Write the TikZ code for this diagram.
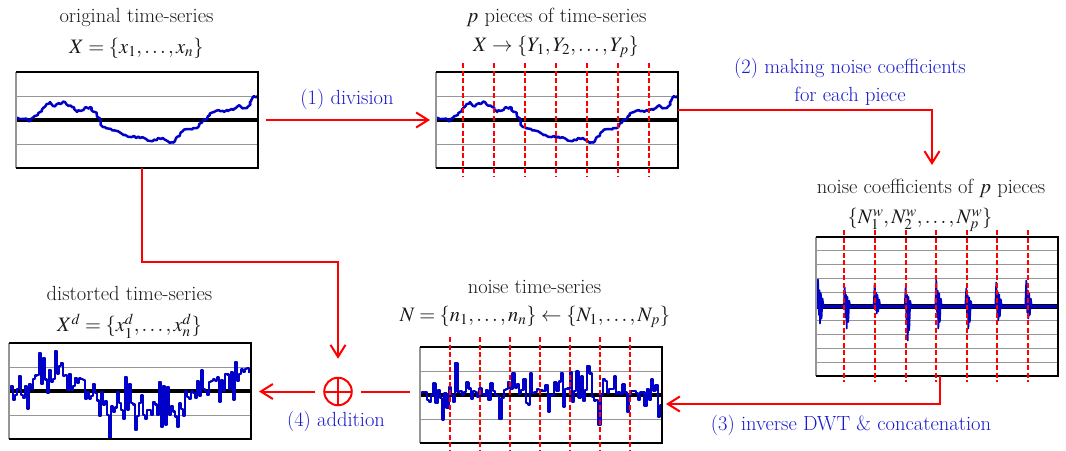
\documentclass[tikz,border=0pt]{standalone}
\usepackage{mathptmx}
\usetikzlibrary{arrows.meta,calc,decorations.pathmorphing}
\definecolor{lblblue}{RGB}{25,25,205}
\definecolor{datblue}{RGB}{0,0,200}
\definecolor{gridgray}{RGB}{150,150,150}
\definecolor{arrred}{RGB}{255,0,0}
\definecolor{ttlblack}{RGB}{25,25,25}
\tikzset{
  chart/.style={rectangle, inner sep=0pt, outer sep=0pt, minimum width=242pt, minimum height=96pt},
  gridline/.style={gridgray, line width=1pt},
  axisline/.style={black, line width=4pt},
  frameline/.style={black, line width=1.5pt},
  leftframe/.style={gridgray, line width=1.5pt},
  cutline/.style={arrred, line width=2pt, dash pattern=on 5pt off 2.5pt},
  dataline/.style={datblue, line width=2.5pt, line join=round},
  arr/.style={arrred, line width=2pt, -{Straight Barb[length=12pt,width=15pt]}},
  conn/.style={arrred, line width=2pt},
  lbl/.style={text=lblblue, inner sep=0pt},
  ttl/.style={text=ttlblack, inner sep=0pt},
  opl/.style={circle, draw=arrred, line width=2pt, minimum size=27.5pt, inner sep=0pt, outer sep=0pt},
}
\newcommand{\chartgrid}[2]{%
  \pgfmathtruncatemacro{\gridn}{#2-1}%
  \foreach \k in {1,...,\gridn}{%
    \draw[gridline] ($(#1.north west)!\k/#2!(#1.south west)$) -- ($(#1.north east)!\k/#2!(#1.south east)$);}%
  \draw[axisline] (#1.west) -- (#1.east);%
}
\newcommand{\chartframe}[1]{%
  \draw[leftframe] (#1.south west) -- (#1.north west);%
  \draw[frameline] (#1.north west) -- (#1.north east) -- (#1.south east) -- (#1.south west);%
}
\newcommand{\cutlines}[4]{%
  \foreach \k in {0,...,6}{\draw[cutline] ({#1+#2*\k},#3) -- ({#1+#2*\k},#4);}%
}
\newcommand{\origcurve}[1]{%
  \draw[dataline, decorate, decoration={random steps, segment length=2pt, amplitude=1.3pt}, #1]
  (0,118) -- (7,119) -- (14,121) -- (19,116) -- (26,111) -- (34,102) -- (37,106) -- (44,104) -- (49,102)
  -- (56,107) -- (61,112) -- (68,109) -- (74,107) -- (79,112) -- (87,127) -- (95,129) -- (101,131)
  -- (111,136) -- (118,136) -- (124,138) -- (130,139) -- (137,141) -- (142,138) -- (147,138) -- (154,143)
  -- (159,141) -- (167,131) -- (174,129) -- (181,128) -- (192,116) -- (198,112) -- (204,111) -- (212,111)
  -- (217,110) -- (222,106) -- (228,108) -- (231,108) -- (235,101) -- (237,97) -- (242,96);%
}
\newcommand{\coefspike}[3]{%
  \draw[dataline, line width=1.8pt] ({#1-3},306.5) -- ({#1-2},{306.5-#2}) -- ({#1-1},{306.5+#3*0.5})
  -- ({#1-0.5},{306.5-#2*0.6}) -- (#1,{306.5+#3}) -- ({#1+0.8},{306.5-#2*0.5}) -- ({#1+1.5},{306.5+#3*0.7})
  -- ({#1+2.5},{306.5-#2*0.3}) -- ({#1+3.5},306.5);%
}
\begin{document}
\begin{tikzpicture}[x=1pt, y=-1pt, every node/.style={font=\fontfamily{lmr}\fontsize{20.5}{28}\selectfont}]
\useasboundingbox (0,0) rectangle (1066,450);

% chart nodes
\node[chart] (c1) at (137,120) {};
\node[chart] (c2) at (557,120) {};
\node[chart, minimum height=139pt] (c3) at (937,306.5) {};
\node[chart] (c4) at (130,391) {};
\node[chart] (c5) at (541,395) {};

% chart 1
\chartgrid{c1}{4}
\pgfmathsetseed{7}
\begin{scope}[shift={(16,0)}]\origcurve{}\end{scope}
\chartframe{c1}

% chart 2
\chartgrid{c2}{4}
\pgfmathsetseed{7}
\begin{scope}[shift={(436,0)}]\origcurve{}\end{scope}
\chartframe{c2}
\cutlines{462.7}{31.1}{63}{177}

% chart 3
\chartgrid{c3}{10}
\draw[axisline, line width=5pt] (c3.west) -- (c3.east);
\draw[dataline] (c3.west) -- (c3.east);
\coefspike{820}{27}{17}
\coefspike{846.7}{19}{22}
\coefspike{876.7}{23}{7}
\coefspike{907.7}{19}{34}
\coefspike{938.3}{26}{22}
\coefspike{968.3}{18}{22}
\coefspike{998.3}{24}{14}
\coefspike{1028.3}{26}{12}
\chartframe{c3}
\cutlines{844.3}{30.6}{230}{382}

% chart 4
\chartgrid{c4}{4}
\begin{scope}
\clip (c4.south west) rectangle (c4.north east);
\pgfmathsetseed{11}
\draw[dataline, line width=2.2pt] (9,389) \foreach \xa/\ya/\yb in {0/-2/0, 12/0/-9, 24/-9/-14, 36/-14/-16, 48/-16/-8, 60/-8/-10, 72/-10/2, 84/2/10, 96/10/14, 108/14/17, 120/17/19, 132/19/19, 144/19/22, 156/22/11, 168/11/8, 180/8/-4, 192/-4/-9, 204/-9/-10, 216/-10/-12, 228/-12/-28} {
  \foreach \k in {1,...,6} { -| ({9+\xa+2*\k}, {391+(\ya)+((\yb)-(\ya))*\k/6+58*rand*rand*rand+6*rand}) }
};
\end{scope}
\chartframe{c4}

% chart 5
\chartgrid{c5}{4}
\begin{scope}
\clip (c5.south west) rectangle (c5.north east);
\pgfmathsetseed{29}
\draw[dataline, line width=2.2pt] (420,393) \foreach \k in {1,...,110} { -| ({420+2.2*\k}, {393+45*rand*rand*rand+5*rand}) };
\end{scope}
\chartframe{c5}
\cutlines{450.3}{30}{337}{452}

% titles
\node[ttl] (t1) at (136.5,17) {original time-series};
\node[ttl] (f1) at (136.5,48) {$X=\{x_1,\ldots,x_n\}$};
\node[ttl] (t2) at (556.5,17) {$p$ pieces of time-series};
\node[ttl] (f2) at (556,47) {$X\rightarrow\{Y_1,Y_2,\ldots,Y_p\}$};
\node[ttl] (t3) at (931,188) {noise coefficients of $p$ pieces};
\node[ttl] (f3) at (920,220) {$\{N_1^w,N_2^w,\ldots,N_p^w\}$};
\node[ttl] (t4) at (129.5,293) {distorted time-series};
\node[ttl] (f4) at (129.5,326) {$X^d=\{x_1^d,\ldots,x_n^d\}$};
\node[ttl] (t5) at (534.5,287) {noise time-series};
\node[ttl] (f5) at (535,317) {$N=\{n_1,\ldots,n_n\}\leftarrow\{N_1,\ldots,N_p\}$};

% step labels
\node[lbl] (l1) at (347,99) {(1) division};
\node[lbl, align=center] (l2) at (850,82) {(2) making noise coefficients\\for each piece};
\node[lbl] (l3) at (851,425) {(3) inverse DWT \& concatenation};
\node[lbl] (l4) at (336,421) {(4) addition};

% oplus
\node[opl] (op) at (338,391.5) {};
\draw[arrred, line width=2pt] (op.north) -- (op.south) (op.west) -- (op.east);

% connectors
\coordinate (a2end) at (932,165);
\draw[arr] ($(c1.east)+(8,0)$) -- ($(c2.west)+(-6,0)$);
\draw[arr] ($(c2.east)+(0,-10)$) -| (a2end);
\draw[arr] ($(c3.south)+(3,0)$) |- ($(c5.east)+(4,9)$);
\draw[conn] ($(op.east)+(9,0)$) -- ($(op.east -| c5.west)+(-10,0)$);
\draw[arr] ($(op.west)+(-9,0)$) -- ($(op.west -| c4.east)+(8,0)$);
\draw[arr] ($(c1.south)+(5,0)$) -- ++(0,94) -| ($(op.north)+(0,-19)$);
\end{tikzpicture}
\end{document}
